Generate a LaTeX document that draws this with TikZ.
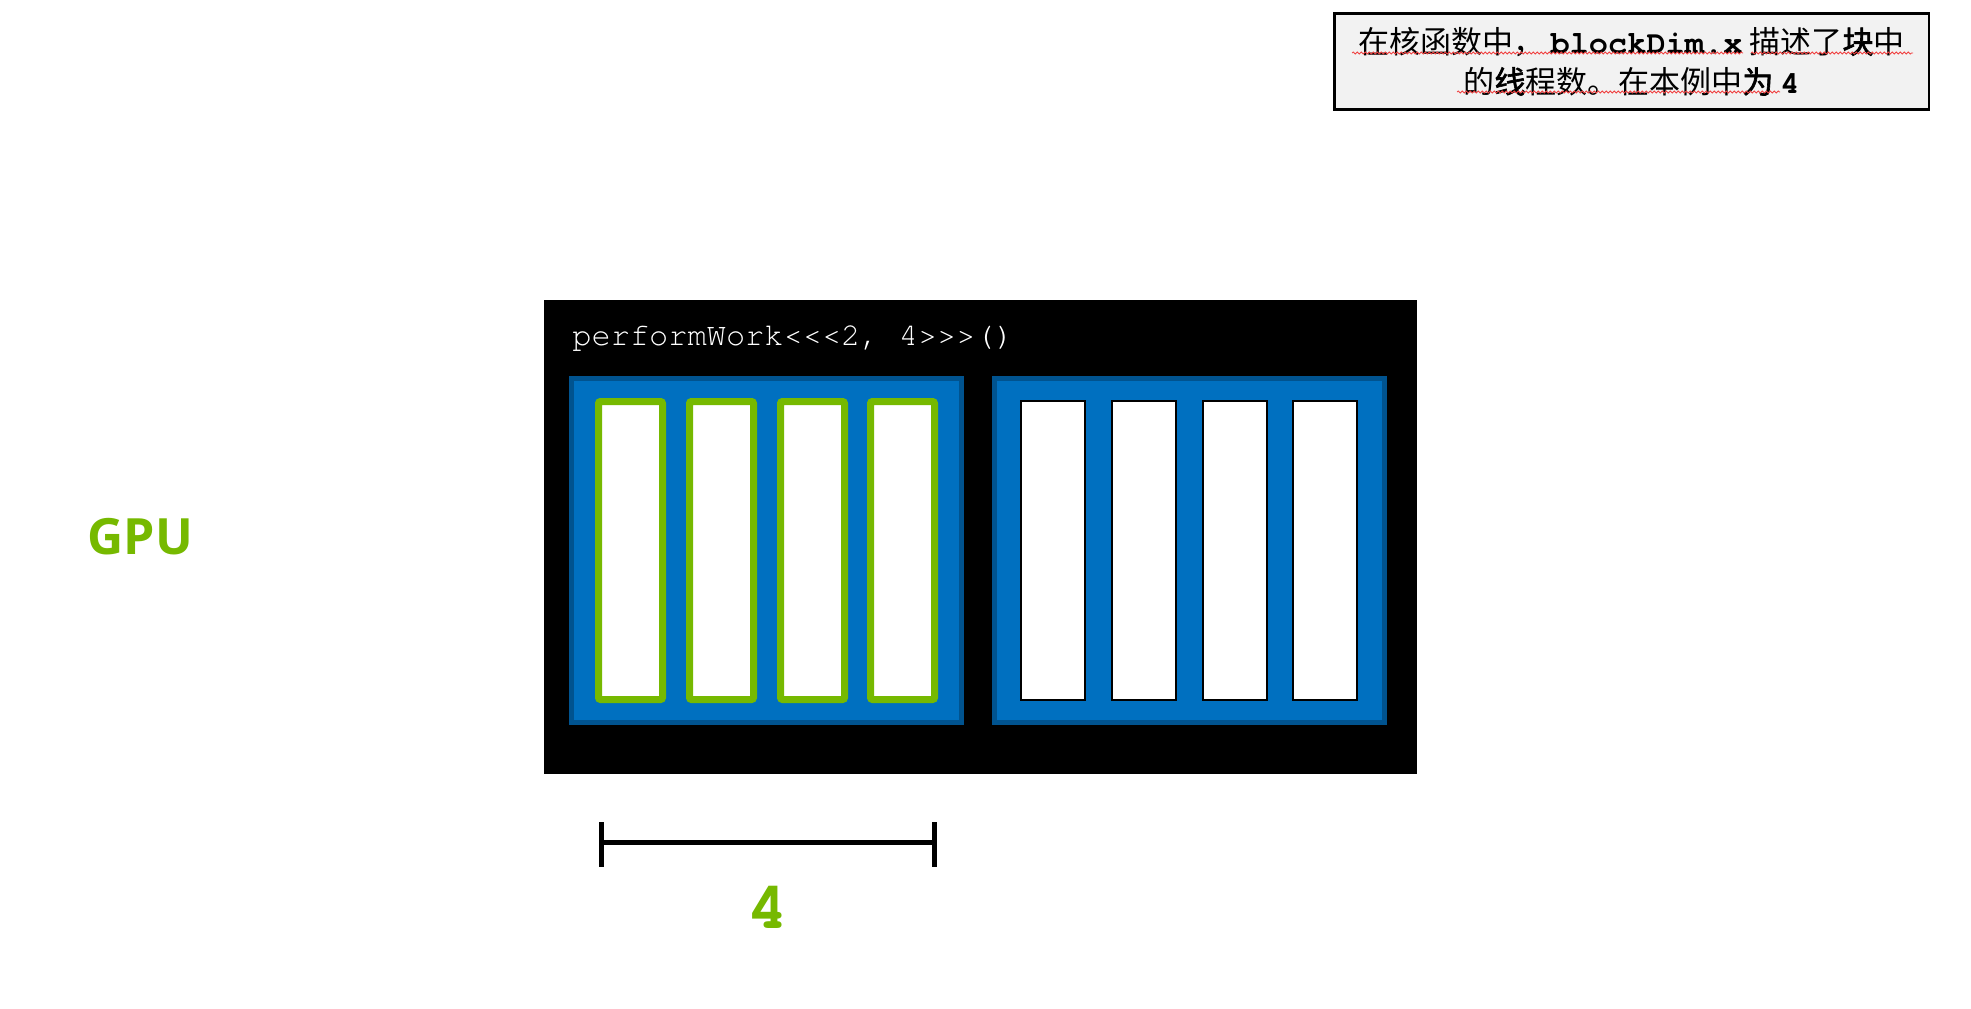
\documentclass[tikz,border=0pt]{standalone}
\usepackage{fontspec}
\usetikzlibrary{decorations.pathmorphing}
\setmainfont{Liberation Sans}
\setmonofont{TeX Gyre Cursor}
\newfontfamily\cjk{Noto Sans CJK SC}
\newfontfamily\cjkb[FakeBold=2]{Noto Sans CJK SC}
\newfontfamily\gpufont{Open Sans}
\definecolor{nvgreen}{HTML}{76B900}
\definecolor{blkblue}{HTML}{0070C0}
\definecolor{blkborder}{HTML}{00538F}
\definecolor{notegray}{HTML}{F2F2F2}
\definecolor{spellred}{HTML}{F04040}
\tikzset{
  kernelbox/.style={fill=black, draw=none, inner sep=0pt, minimum width=436.5pt, minimum height=237pt},
  blockbox/.style={fill=blkblue, draw=blkborder, line width=2.5pt, inner sep=0pt, minimum width=195pt, minimum height=172pt},
  activethread/.style={fill=white, draw=nvgreen, line width=3.5pt, rounded corners=1pt, inner sep=0pt, minimum width=32pt, minimum height=149pt},
  thread/.style={fill=white, draw=black, line width=1pt, inner sep=0pt, minimum width=32pt, minimum height=149.5pt},
  bracketline/.style={draw=black, line width=2.5pt},
  notebox/.style={fill=notegray, draw=black, line width=1.25pt, inner sep=0pt, minimum width=297.25pt, minimum height=48pt, align=center, font=\cjk\fontsize{15.5}{20}\selectfont},
  squiggle/.style={draw=spellred, line width=0.4pt, decorate, decoration={snake, segment length=2pt, amplitude=0.5pt}},
}
\newcommand{\codebf}[1]{{\ttfamily\bfseries\fontsize{16}{20}\selectfont #1}}
\begin{document}
\begin{tikzpicture}[x=0.5pt, y=-0.5pt]
\fill[white] (0,0) rectangle (1971,1008);
\useasboundingbox (0,0) rectangle (1971,1008);

% kernel launch box
\node[kernelbox] (kernel) at (980.5,537) {};
\node[anchor=base west, text=white, inner sep=0pt, font=\ttfamily\fontsize{16}{19}\selectfont] (call) at (572,345) {performWork<{}<{}<2, 4>{}>{}>()};

% blocks
\node[blockbox] (block0) at (766.5,550.5) {};
\node[blockbox] (block1) at (1189.5,550.5) {};

% threads of block 0
\node[activethread] (t00) at (630.5,550.5) {};
\node[activethread] (t01) at (721.5,550.5) {};
\node[activethread] (t02) at (812.5,550.5) {};
\node[activethread] (t03) at (902.5,550.5) {};

% threads of block 1
\node[thread] (t10) at (1053,550.5) {};
\node[thread] (t11) at (1143.5,550.5) {};
\node[thread] (t12) at (1234.5,550.5) {};
\node[thread] (t13) at (1325,550.5) {};

% GPU label
\node[anchor=base west, inner sep=0pt, text=nvgreen, font=\gpufont\bfseries\fontsize{25}{30}\selectfont] (gpu) at (87,554) {GPU};

% bracket
\coordinate (bl) at (601,842);
\coordinate (br) at (934,842);
\draw[bracketline] (bl) -- (br);
\draw[bracketline] ([yshift=10pt]bl) -- ([yshift=-12.5pt]bl);
\draw[bracketline] ([yshift=10pt]br) -- ([yshift=-12.5pt]br);
\node[inner sep=0pt, text=nvgreen, font=\ttfamily\bfseries\fontsize{34}{36}\selectfont] (four) at (768,907) {4};

% note
\node[notebox] (note) at (1631.5,61.5) {在核函数中，\hspace{3pt}\codebf{blockDim.x} 描述了{\cjkb 块}中\\的{\cjkb 线}程数。在本例中{\cjkb 为} \codebf{4}};

% spell-check underlines
\coordinate (sqa1) at (1352,53);
\coordinate (sqa2) at (1743,53);
\coordinate (sqb1) at (1751,53);
\coordinate (sqb2) at (1913,53);
\coordinate (sqc1) at (1457,92);
\coordinate (sqc2) at (1780,92);
\draw[squiggle] (sqa1) -- (sqa2);
\draw[squiggle] (sqb1) -- (sqb2);
\draw[squiggle] (sqc1) -- (sqc2);
\end{tikzpicture}
\end{document}
